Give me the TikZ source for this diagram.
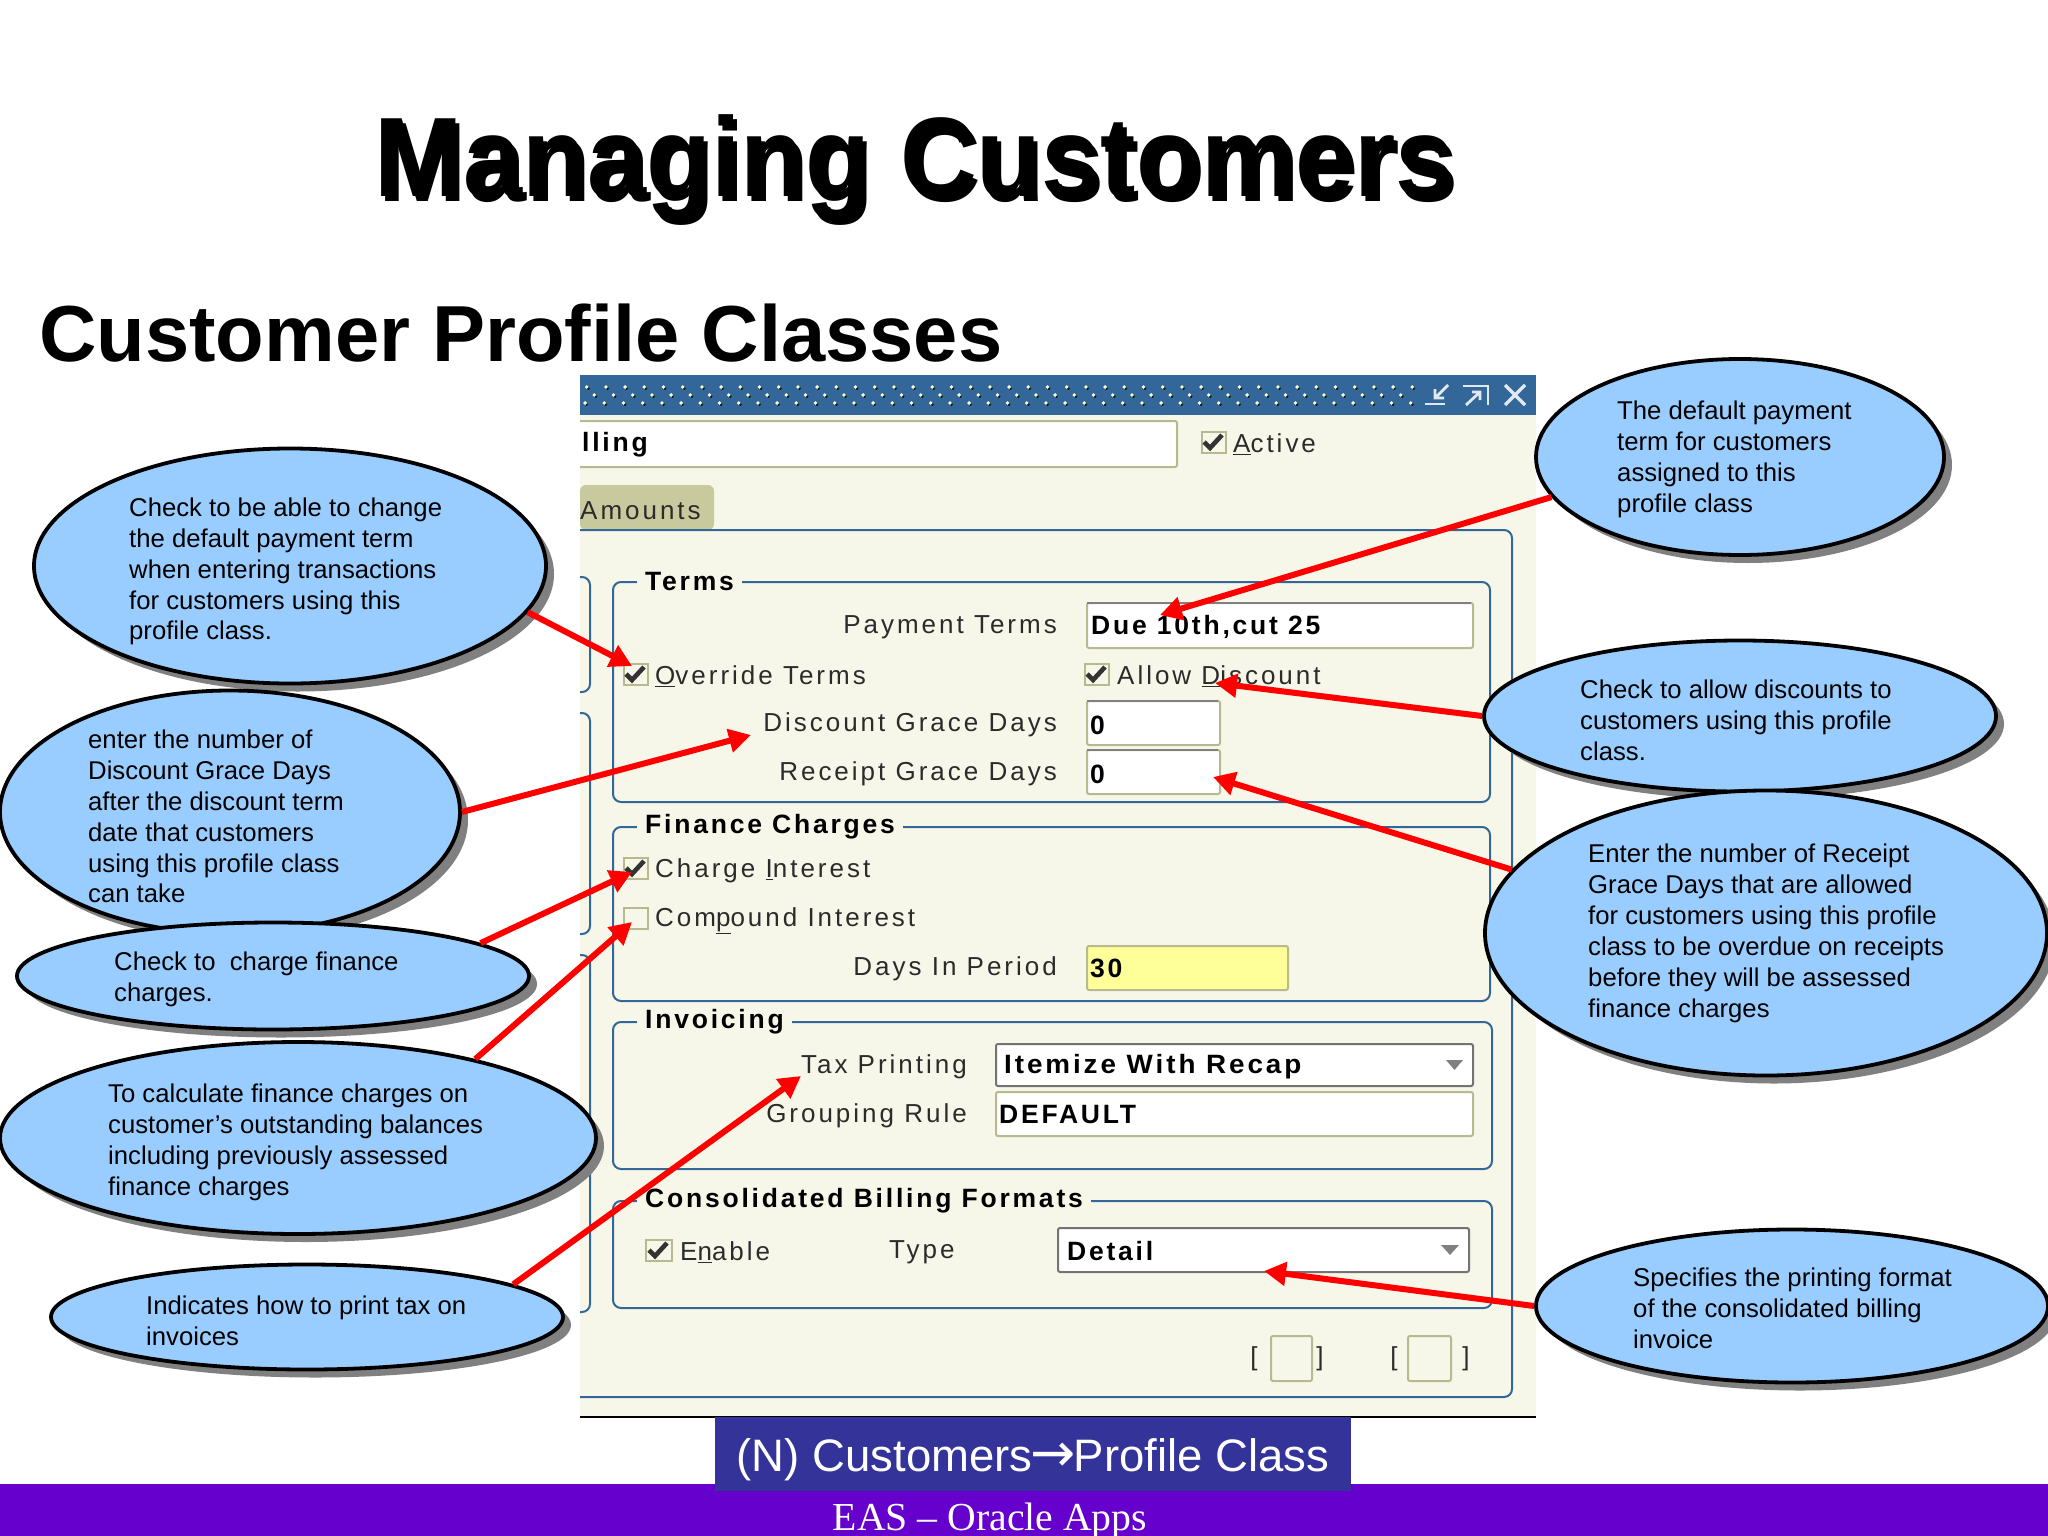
\documentclass[tikz,border=0pt]{standalone}
\usepackage{fontspec}
\setmainfont{Liberation Sans}
\newfontfamily\uifont[LetterSpace=11.5]{Liberation Sans}
\newfontfamily\uibold[LetterSpace=10.5]{Liberation Sans Bold}
\newfontfamily\serifui{Liberation Serif}
\newfontfamily\arrowfont{DejaVu Sans}
\usetikzlibrary{shapes.geometric,arrows.meta,shadows}
\definecolor{cream}{HTML}{F7F7E9}
\definecolor{winblue}{HTML}{336699}
\definecolor{bubblefill}{HTML}{99CCFF}
\definecolor{tabfill}{HTML}{C9C99E}
\definecolor{olive}{HTML}{B9B98F}
\definecolor{navbox}{HTML}{333399}
\definecolor{purplebar}{HTML}{6600CC}
\definecolor{yellowf}{HTML}{FFFF99}
\definecolor{labelgray}{HTML}{2B2B2B}
\tikzset{
  x=1pt,y=-1pt,
  bubble/.style={ellipse,draw=black,line width=3.8pt,fill=bubblefill,inner sep=0pt,
    general shadow={fill=black!50,shadow xshift=8pt,shadow yshift=-8pt}},
  bubbletext/.style={anchor=west,align=left,inner sep=0pt,text=black,yshift=-1.5pt,
    font=\fontsize{25.7}{30.9}\selectfont},
  callout/.style={draw=red,line width=6pt,-{Triangle[length=22pt,width=23pt]}},
  frameline/.style={draw=winblue,line width=2pt,rounded corners=8pt},
  groupframe/.style={frameline,anchor=north west,inner sep=0pt},
  grouplabel/.style={anchor=west,fill=cream,inner xsep=8pt,inner ysep=0pt,text=black,yshift=-1pt,
    font=\uibold\fontsize{26.5}{26.5}\selectfont},
  wlabel/.style={anchor=east,inner sep=0pt,text=labelgray,yshift=-1pt,font=\uifont\fontsize{26}{26}\selectfont},
  wlabelL/.style={anchor=west,inner sep=0pt,text=labelgray,yshift=-1pt,font=\uifont\fontsize{26}{26}\selectfont},
  val/.style={anchor=west,inner sep=0pt,text=black,yshift=-1pt,font=\uibold\fontsize{26.5}{26.5}\selectfont},
  field/.style={anchor=north west,inner sep=0pt,draw=olive,line width=2pt,fill=white,rounded corners=2pt},
  combo/.style={anchor=north west,inner sep=0pt,draw=black!55,line width=2pt,fill=white,rounded corners=2pt},
  checkbox/.style={anchor=north west,inner sep=0pt,minimum width=24pt,minimum height=21pt,
    draw=olive,line width=2pt,fill=cream},
  tick/.pic={\draw[black!80,line width=4.6pt] (-8,0)--(-2,6)--(10,-7);},
  drop/.style={fill=black!50,draw=none}
}
\begin{document}
\begin{tikzpicture}
\useasboundingbox (0,0) rectangle (2048,1536);
\fill[white] (0,0) rectangle (2048,1536);

% titles
\node[inner sep=0pt,text=black,xscale=.94,font=\bfseries\fontsize{113}{113}\selectfont] (titleshadow) at (919,173) {Managing Customers};
\node[inner sep=0pt,text=black,xscale=.94,font=\bfseries\fontsize{113}{113}\selectfont] (title) at (915,168) {Managing Customers};
\node[anchor=west,inner sep=0pt,text=black,font=\bfseries\fontsize{79.5}{79.5}\selectfont] (subtitle) at (39,333) {Customer Profile Classes};

% window
\fill[cream] (580,375) rectangle (1536,1417);
\fill[winblue] (580,375) rectangle (1536,415);
\foreach \i in {0,...,43}{
  \fill[black!75!winblue] ({588.2+\i*19.2},388.5) circle (1.6);
  \fill[white!80!yellow] ({586.7+\i*19.2},387) circle (1.9);
  \fill[black!75!winblue] ({576.6+\i*19.2},396.5) circle (1.6);
  \fill[white!80!yellow] ({575.1+\i*19.2},395) circle (1.9);
  \fill[black!75!winblue] ({586.6+\i*19.2},404.5) circle (1.6);
  \fill[white!80!yellow] ({585.1+\i*19.2},403) circle (1.9);
}
\fill[winblue] (1418,378) rectangle (1536,412);
\fill[white] (560,375) rectangle (580,415);
\draw[white!85!winblue,line width=2.8pt] (1425,404)--(1445,404);
\draw[white!85!winblue,line width=2.8pt] (1448,385)--(1435,398) (1435,389)--(1435,398)--(1444,398);
\draw[white!85!winblue,line width=2.8pt] (1463,386)--(1488,386)--(1488,405);
\draw[white!85!winblue,line width=2.8pt] (1466,405)--(1480,392) (1472,392)--(1480,392)--(1480,400);
\draw[white!85!winblue,line width=3.5pt] (1505,385)--(1525,405) (1525,385)--(1505,405);
\draw[black,line width=1.5pt] (580,1417)--(1536,1417);

% top row
\node[field,minimum width=600pt,minimum height=46pt] (fName) at (576,420) {};
\fill[white] (560,415) rectangle (580,470);
\node[val] (vName) at (582,444) {lling};
\node[checkbox] (cActive) at (1201,431) {};
\pic at (1212,442) {tick};
\node[wlabelL] (lActive) at (1233,443) {\underline{A}ctive};
\path[fill=tabfill,rounded corners=6pt] (580,530)--(580,485)--(714,485)--(714,530)--cycle;
\node[wlabelL] (lAmounts) at (580,510) {Amounts};

% frames
\draw[frameline] (580,530)--(1512,530)--(1512,1397)--(580,1397);
\draw[frameline] (580,577)--(590,577)--(590,692)--(580,692);
\draw[frameline] (580,713)--(590,713)--(590,934)--(580,934);
\draw[frameline] (580,955)--(590,955)--(590,1312)--(580,1312);

\node[groupframe,minimum width=877pt,minimum height=220pt] (gTerms) at (612,581) {};
\node[grouplabel] (lTerms) at (637,581) {Terms};
\node[groupframe,minimum width=877pt,minimum height=174pt] (gFinance) at (612,826) {};
\node[grouplabel] (lFinance) at (637,826) {Finance Charges};
\node[groupframe,minimum width=879pt,minimum height=147pt] (gInvoicing) at (612,1021) {};
\node[grouplabel] (lInvoicing) at (637,1021) {Invoicing};
\node[groupframe,minimum width=879pt,minimum height=107pt] (gConsol) at (612,1200) {};
\node[grouplabel] (lConsol) at (637,1200) {Consolidated Billing Formats};

% terms
\node[wlabel] (lPay) at (1057,626) {Payment Terms};
\node[field,minimum width=386pt,minimum height=45pt] (fPay) at (1086,602) {};
\draw[black!50,line width=2pt] (1087,603)--(1471,603);
\node[val] (vPay) at (1091,626) {Due 10th,cut 25};
\node[checkbox] (cOverride) at (623,663) {};
\pic at (634,674) {tick};
\node[wlabelL] (lOverride) at (655,675) {\underline{O}verride Terms};
\node[checkbox] (cAllow) at (1084,663) {};
\pic at (1095,674) {tick};
\node[wlabelL] (lAllow) at (1117,675) {Allow \underline{D}iscount};
\node[wlabel] (lDisc) at (1057,724) {Discount Grace Days};
\node[field,minimum width=133pt,minimum height=44pt] (fDisc) at (1086,700) {};
\draw[black!50,line width=2pt] (1087,701)--(1218,701);
\node[val] (vDisc) at (1090,724) {0};
\node[wlabel] (lRec) at (1057,773) {Receipt Grace Days};
\node[field,minimum width=133pt,minimum height=44pt] (fRec) at (1086,749) {};
\draw[black!50,line width=2pt] (1087,750)--(1218,750);
\node[val] (vRec) at (1090,773) {0};

% finance
\node[checkbox] (cCharge) at (623,857) {};
\pic at (634,868) {tick};
\node[wlabelL] (lCharge) at (655,870) {Charge \underline{I}nterest};
\node[checkbox] (cCompound) at (623,907) {};
\node[wlabelL] (lCompound) at (655,920) {Com\underline{p}ound Interest};
\node[wlabel] (lDays) at (1057,968) {Days In Period};
\node[field,fill=yellowf,minimum width=201pt,minimum height=44pt] (fDays) at (1086,945) {};
\node[val] (vDays) at (1090,967) {30};

% invoicing
\node[wlabel] (lTax) at (967,1066) {Tax Printing};
\node[combo,minimum width=477pt,minimum height=42pt] (fTax) at (995,1043) {};
\node[val,xscale=1.05] (vTax) at (1004,1066) {Itemize With Recap};
\fill[drop] (1446,1060)--(1463,1060)--(1454.5,1070)--cycle;
\node[wlabel] (lGroup) at (967,1115) {Grouping Rule};
\node[field,minimum width=477pt,minimum height=44pt] (fGroup) at (995,1091) {};
\node[val] (vGroup) at (999,1114) {DEFAULT};

% consolidated
\node[checkbox,minimum width=26pt] (cEnable) at (645,1239) {};
\pic at (657,1250) {tick};
\node[wlabelL] (lEnable) at (680,1251) {E\underline{n}able};
\node[wlabelL] (lType) at (889,1251) {Type};
\node[combo,minimum width=411pt,minimum height=44pt] (fDetail) at (1057,1227) {};
\node[val] (vDetail) at (1067,1250) {Detail};
\fill[drop] (1441,1245)--(1459,1245)--(1450,1255)--cycle;

% bottom brackets
\node[wlabel,anchor=center] (b1) at (1254,1358) {[};
\node[field,fill=cream,minimum width=41pt,minimum height=45pt] (box1) at (1270,1335) {};
\node[wlabel,anchor=center] (b2) at (1320,1358) {]};
\node[wlabel,anchor=center] (b3) at (1394,1358) {[};
\node[field,fill=cream,minimum width=43pt,minimum height=45pt] (box2) at (1407,1335) {};
\node[wlabel,anchor=center] (b4) at (1466,1358) {]};

% footer
\fill[purplebar] (0,1484) rectangle (2048,1536);
\node[anchor=north west,inner sep=0pt,fill=navbox,minimum width=636pt,minimum height=74pt] (navbox) at (715,1417) {};
\node[inner sep=0pt,text=white,font=\fontsize{45.5}{46}\selectfont] (navtext) at (1033,1460) {(N) Customers{\arrowfont\fontsize{54}{46}\selectfont\kern-2pt→\kern-2pt}Profile Class};
\node[inner sep=0pt,text=white,font=\serifui\fontsize{39.7}{40}\selectfont] (footertext) at (990,1521) {EAS – Oracle Apps};

% bubbles
\node[bubble,minimum width=512pt,minimum height=235pt] (e1) at (290,566) {};
\node[bubbletext] (t1) at (129,570) {Check to be able to change\\the default payment term\\when entering transactions\\for customers using this\\profile class.};
\node[bubble,minimum width=460pt,minimum height=243pt] (e2) at (230,812) {};
\node[bubbletext] (t2) at (88,815) {enter the number of\\Discount Grace Days\\after the discount term\\date that customers\\using this profile class\\can take};
\node[bubble,minimum width=512pt,minimum height=107pt] (e3) at (273,976) {};
\node[bubbletext] (t3) at (114,978) {Check to\ \ charge finance\\charges.};
\node[bubble,minimum width=596pt,minimum height=192pt] (e4) at (298,1138) {};
\node[bubbletext] (t4) at (108,1141) {To calculate finance charges on\\customer's outstanding balances\\including previously assessed\\finance charges};
\node[bubble,minimum width=512pt,minimum height=105pt] (e5) at (307,1317) {};
\node[bubbletext] (t5) at (146,1319) {Indicates how to print tax on\\invoices};
\node[bubble,minimum width=408pt,minimum height=196pt] (e6) at (1740,457) {};
\node[bubbletext] (t6) at (1617,458) {The default payment\\term for customers\\assigned to this\\profile class};
\node[bubble,minimum width=512pt,minimum height=151pt] (e7) at (1740,716) {};
\node[bubbletext] (t7) at (1580,719) {Check to allow discounts to\\customers using this profile\\class.};
\node[bubble,minimum width=562pt,minimum height=285pt] (e8) at (1766,933) {};
\node[bubbletext] (t8) at (1588,932) {Enter the number of Receipt\\Grace Days that are allowed\\for customers using this profile\\class to be overdue on receipts\\before they will be assessed\\finance charges};
\node[bubble,minimum width=512pt,minimum height=153pt] (e9) at (1792,1306) {};
\node[bubbletext] (t9) at (1633,1307) {Specifies the printing format\\of the consolidated billing\\invoice};

% targets
\coordinate (tgOverride) at (632,666);
\coordinate (tgDisc) at (751,735);
\coordinate (tgCharge) at (632,872);
\coordinate (tgCompound) at (632,922);
\coordinate (tgTax) at (801,1076);
\coordinate (tgPay) at (1160,615);
\coordinate (tgAllow) at (1215,683);
\coordinate (tgRec) at (1213,777);
\coordinate (tgDetail) at (1264,1271);

% connectors
\draw[callout] (e1.-11) -- (tgOverride);
\draw[callout] (e2.0) -- (tgDisc);
\draw[callout] (e3.9) -- (tgCharge);
\draw[callout] (e4.24) -- (tgCompound);
\draw[callout] (e5.9) -- (tgTax);
\draw[callout] (e6.192) -- (tgPay);
\draw[callout] (e7.180) -- (tgAllow);
\draw[callout] (e8.166) -- (tgRec);
\draw[callout] (e9.180) -- (tgDetail);
\end{tikzpicture}
\end{document}
